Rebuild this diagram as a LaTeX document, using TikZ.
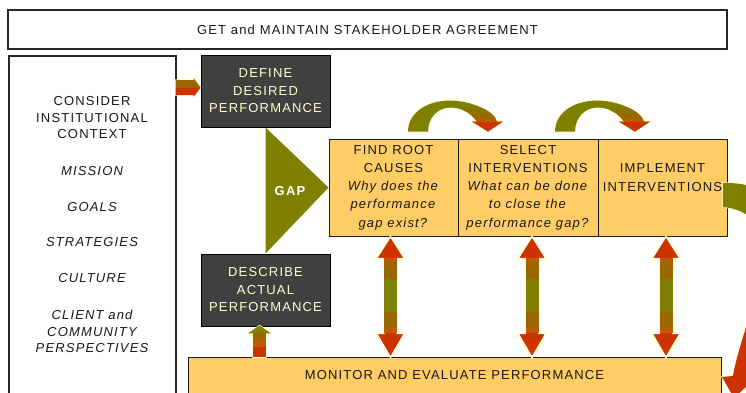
\documentclass[tikz,border=0pt]{standalone}
\usepackage{fontspec}
\setmainfont{Liberation Sans}
\newfontfamily\spaced[LetterSpace=9]{Liberation Sans}
\usetikzlibrary{calc}

\definecolor{panel}{HTML}{404040}
\definecolor{paletext}{HTML}{FFFFCC}
\definecolor{stepfill}{HTML}{FFCC66}
\definecolor{gapolive}{HTML}{808000}
\definecolor{oliveumber}{HTML}{8C7300}
\definecolor{umber}{HTML}{996600}
\definecolor{amber}{HTML}{C05A00}
\definecolor{rust}{HTML}{CC3300}

% outline of the hop arrows over the step row, relative to the left foot
\newcommand\hopshape{(0,0) .. controls (0,-18) and (18,-31) .. (42,-31)
  .. controls (62,-31) and (86,-21) .. (89,-10) -- (95,-10) -- (80,0)
  -- (64,-10) -- (69,-10) .. controls (62,-20) and (52,-24) .. (42,-24)
  .. controls (30,-24) and (20,-14) .. (20,0) -- cycle}

% outline of the loop arrow from the last step back to monitoring
\newcommand\loopshape{(723,183) .. controls (830,180) and (820,330) .. (750,374)
  -- (762,372) -- (734,398) -- (722,377) -- (733,376)
  .. controls (742,320) and (800,215) .. (723,207) -- cycle}

\newcommand\hoparrow[1]{%
  \begin{scope}[shift={(#1)}]
    \path[draw=paletext, line width=1.4pt] \hopshape;
    \begin{scope}
      \clip \hopshape;
      \fill[gapolive] (-5,-40) rectangle (100,5);
      \fill[oliveumber] (55,-24) rectangle (100,-18);
      \fill[umber] (55,-18) rectangle (100,-13);
      \fill[amber] (55,-13) rectangle (100,-10);
      \fill[rust] (55,-10) rectangle (100,5);
    \end{scope}
  \end{scope}}

% two-headed block arrow, 121pt long, hanging from the given point
\newcommand\twowayarrow[1]{%
  \begin{scope}[shift={(#1)}]
    \path[draw=paletext, line width=1.4pt, fill=rust] (0,0) -- (14,22) -- (6.5,22)
      -- (6.5,97) -- (14,97) -- (0,121) -- (-14,97) -- (-6.5,97) -- (-6.5,22)
      -- (-14,22) -- cycle;
    \fill[amber] (-6.5,22) rectangle (6.5,26);
    \fill[umber] (-6.5,26) rectangle (6.5,43);
    \fill[gapolive] (-6.5,43) rectangle (6.5,76);
    \fill[umber] (-6.5,76) rectangle (6.5,92);
    \fill[amber] (-6.5,92) rectangle (6.5,97);
  \end{scope}}

\tikzset{
  txt/.style={font=\spaced\fontsize{13}{17.5}\selectfont, align=center,
    inner sep=0pt, text=black!90},
  itxt/.style={txt, font=\spaced\itshape\fontsize{13}{16.5}\selectfont},
  frame/.style={draw=black!85, line width=1.3pt, fill=white, inner sep=0pt},
  darkbox/.style={draw=black, line width=0.9pt, fill=panel, text=paletext,
    inner sep=0pt, align=center, font=\spaced\fontsize{13}{17.5}\selectfont},
  stepbox/.style={draw=black!90, line width=0.9pt, fill=stepfill, inner sep=0pt,
    align=center, text=black!90, font=\spaced\fontsize{13}{18.3}\selectfont},
}

\begin{document}
\begin{tikzpicture}[x=1pt, y=-1pt]
\useasboundingbox (0,0) rectangle (746,392);
\clip (0,0) rectangle (746,392);
\fill[white] (0,0) rectangle (746,392);

% banner
\node[frame, txt, minimum width=719pt, minimum height=39pt] (agree) at (367.5,29.5)
  {GET and MAINTAIN STAKEHOLDER AGREEMENT};

% institutional context column
\node[frame, minimum width=167pt, minimum height=342pt] (context) at (92.5,227) {};
\node[txt, font=\spaced\fontsize{13}{16.5}\selectfont] (ctx-head) at (92,118)
  {CONSIDER\\INSTITUTIONAL\\CONTEXT};
\node[itxt] (ctx-mission) at (92,171) {MISSION};
\node[itxt] (ctx-goals) at (92,207) {GOALS};
\node[itxt] (ctx-strategies) at (92,242) {STRATEGIES};
\node[itxt] (ctx-culture) at (92,278) {CULTURE};
\node[itxt] (ctx-client) at (92,331.5) {CLIENT and\\COMMUNITY\\PERSPECTIVES};

% desired and actual performance
\node[darkbox, minimum width=129pt, minimum height=72pt] (define) at (265.5,91)
  {DEFINE\\DESIRED\\PERFORMANCE};
\node[darkbox, minimum width=129pt, minimum height=72pt] (describe) at (265.5,290)
  {DESCRIBE\\ACTUAL\\PERFORMANCE};

% step row
\node[stepbox, minimum width=129pt, minimum height=97pt] (find) at (393.5,187.5)
  {FIND ROOT\\CAUSES\\\textit{Why does the}\\\textit{performance}\\\textit{gap exist?}};
\node[stepbox, minimum width=140pt, minimum height=97pt] (select) at (528,187.5)
  {SELECT\\INTERVENTIONS\\\textit{What can be done}\\\textit{to close the}\\\textit{performance gap?}};
\node[stepbox, minimum width=129pt, minimum height=97pt] (implement) at (662.5,187.5) {};
\node[txt, font=\spaced\fontsize{13}{18.3}\selectfont] (implement-text) at (662.5,177.5)
  {IMPLEMENT\\INTERVENTIONS};

% gap wedge between the two performance boxes
\fill[gapolive] (define.south) -- (find.west) -- (describe.north) -- cycle;
\node[font=\spaced\bfseries\fontsize{13}{15}\selectfont, text=white, inner sep=0pt]
  (gap) at (290,191) {GAP};

% monitoring bar
\node[stepbox, minimum width=533pt, minimum height=37pt] (monitor) at (454.5,375.5)
  {MONITOR AND EVALUATE PERFORMANCE};

% hop arrows between steps
\coordinate (hop1) at ($(find.north)+(14.5,-7)$);
\coordinate (hop2) at ($(select.north)+(27,-7)$);
\hoparrow{hop1}
\hoparrow{hop2}

% two-way arrows between the steps and monitoring
\coordinate (link1) at ($(find.south)+(-3,0)$);
\coordinate (link2) at ($(select.south)+(4,0)$);
\coordinate (link3) at ($(implement.south)+(3.5,0)$);
\twowayarrow{link1}
\twowayarrow{link2}
\twowayarrow{link3}

% loop arrow from implementation down to monitoring
\path[draw=paletext, line width=1.4pt] \loopshape;
\begin{scope}
  \clip \loopshape;
  \fill[gapolive] (700,170) rectangle (840,250);
  \fill[umber] (700,250) rectangle (840,290);
  \fill[amber] (700,290) rectangle (840,322);
  \fill[rust] (700,322) rectangle (840,410);
\end{scope}

% context feeds the desired performance
\begin{scope}[shift={(define.west)}]
  \path[draw=paletext, line width=1.2pt]
    (-25,-11) -- (-7,-11) -- (-7,-13) -- (0,-3.5) -- (-7,6) -- (-7,4) -- (-25,4) -- cycle;
  \begin{scope}
    \clip (-25,-11) -- (-7,-11) -- (-7,-13) -- (0,-3.5) -- (-7,6) -- (-7,4) -- (-25,4) -- cycle;
    \fill[umber] (-26,-14) rectangle (1,-3.5);
    \fill[rust] (-26,-3.5) rectangle (1,7);
  \end{scope}
\end{scope}

% monitoring feeds the actual performance
\begin{scope}[shift={($(describe.south)+(-6,0)$)}]
  \path[draw=paletext, line width=1.2pt]
    (0,-1) -- (11.5,7) -- (6.5,7) -- (6.5,31) -- (-6.5,31) -- (-6.5,7) -- (-11.5,7) -- cycle;
  \fill[gapolive] (0,-1) -- (11.5,7) -- (-11.5,7) -- cycle;
  \fill[umber] (-6.5,7) rectangle (6.5,14);
  \fill[amber] (-6.5,14) rectangle (6.5,21);
  \fill[rust] (-6.5,21) rectangle (6.5,31);
\end{scope}
\end{tikzpicture}
\end{document}
